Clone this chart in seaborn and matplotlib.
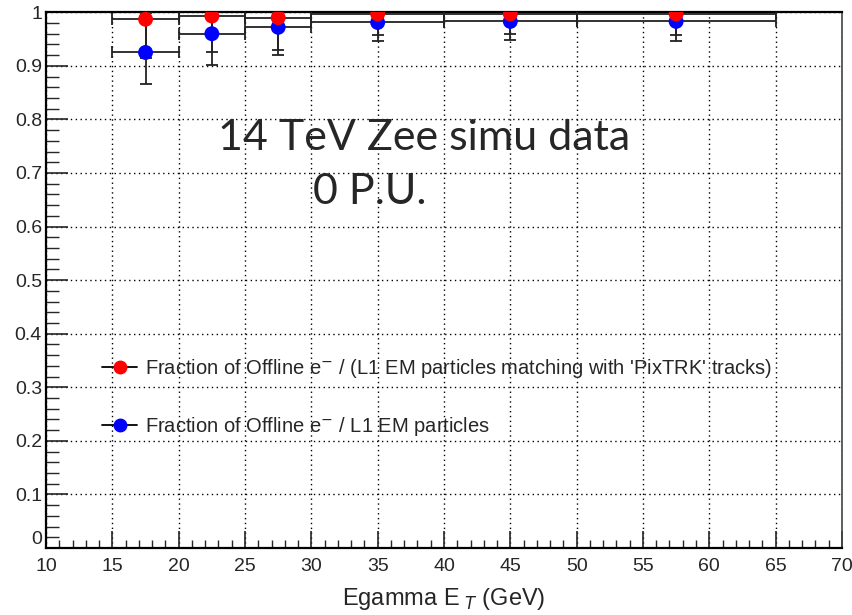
import matplotlib
matplotlib.use("Agg")
import matplotlib.pyplot as plt
import seaborn as sns
import pandas as pd
from matplotlib.lines import Line2D
from matplotlib.ticker import MultipleLocator

# bins of Egamma E_T (GeV)
bin_lo = [15, 20, 25, 30, 40, 50]
bin_hi = [20, 25, 30, 40, 50, 65]
bin_center = [17.5, 22.5, 27.5, 35, 45, 57.5]

# fraction matching PixTRK tracks (red)
frac_trk = [0.987, 0.993, 0.990, 0.997, 0.997, 0.997]
frac_trk_lo = [0.915, 0.925, 0.930, 0.957, 0.960, 0.957]
frac_trk_hi = [0.999, 0.999, 0.999, 0.999, 0.999, 0.999]

# fraction of offline e- / L1 EM particles (blue)
frac_em = [0.925, 0.960, 0.972, 0.981, 0.983, 0.983]
frac_em_lo = [0.866, 0.901, 0.921, 0.946, 0.949, 0.946]
frac_em_hi = [0.984, 0.992, 0.992, 0.995, 0.995, 0.995]

lab_trk = "Fraction of Offline e$^{-}$ / (L1 EM particles matching with 'PixTRK' tracks)"
lab_em = "Fraction of Offline e$^{-}$ / L1 EM particles"

df = pd.DataFrame({
    "et": bin_center * 2,
    "frac": frac_em + frac_trk,
    "series": [lab_em] * 6 + [lab_trk] * 6,
})

sns.set_style("ticks")
plt.rcParams["font.family"] = ["Liberation Sans", "DejaVu Sans"]

fig = plt.figure(figsize=(8.53, 6.15), dpi=100)
ax = fig.add_axes([0.054, 0.109, 0.933, 0.871])

xerr = [[c - lo for c, lo in zip(bin_center, bin_lo)],
        [hi - c for c, hi in zip(bin_center, bin_hi)]]
for vals, lo, hi in [(frac_em, frac_em_lo, frac_em_hi), (frac_trk, frac_trk_lo, frac_trk_hi)]:
    yerr = [[v - l for v, l in zip(vals, lo)], [h - v for v, h in zip(vals, hi)]]
    ax.errorbar(bin_center, vals, xerr=xerr, yerr=yerr, fmt="none", ecolor="#222222",
                elinewidth=1.3, capsize=4, capthick=1.3, zorder=3)

sns.scatterplot(data=df, x="et", y="frac", hue="series", palette={lab_em: "#0000ff", lab_trk: "#ff0000"},
                s=115, edgecolor="none", legend=False, ax=ax, zorder=4)

ax.set_xlim(10, 70)
ax.set_ylim(0, 1)
ax.xaxis.set_major_locator(MultipleLocator(5))
ax.xaxis.set_minor_locator(MultipleLocator(1))
ax.yaxis.set_major_locator(MultipleLocator(0.1))
ax.yaxis.set_minor_locator(MultipleLocator(0.02))
ax.set_yticks([0, 0.1, 0.2, 0.3, 0.4, 0.5, 0.6, 0.7, 0.8, 0.9, 1])
ax.set_yticklabels(["0", "0.1", "0.2", "0.3", "0.4", "0.5", "0.6", "0.7", "0.8", "0.9", "1"])
ax.get_yticklabels()[0].set_verticalalignment("bottom")
ax.tick_params(axis="x", which="major", direction="in", length=12, width=1.2, labelsize=14, pad=7)
ax.tick_params(axis="x", which="minor", direction="in", length=6, width=1.0)
ax.tick_params(axis="y", which="major", direction="in", length=16, width=1.2, labelsize=14, pad=3)
ax.tick_params(axis="y", which="minor", direction="in", length=9, width=1.0)
ax.grid(True, which="major", linestyle=(0, (1, 2.5)), color="black", linewidth=1.0)
for side in ["left", "bottom", "top"]:
    ax.spines[side].set_linewidth(1.6)
    ax.spines[side].set_color("black")
ax.spines["right"].set_linewidth(1.2)
ax.spines["right"].set_color("#444444")

ax.set_xlabel("Egamma E$_{\\ T}$ (GeV)", fontsize=17, labelpad=8)
ax.set_ylabel("")

ax.text(0.475, 0.765, "14 TeV Zee simu data", transform=ax.transAxes, ha="center", va="center",
        fontsize=31, family=["Lato", "DejaVu Sans"])
ax.text(0.407, 0.664, "0 P.U.", transform=ax.transAxes, ha="center", va="center",
        fontsize=31, family=["Lato", "DejaVu Sans"])

h_trk = (Line2D([], [], color="black", lw=1.3),
         Line2D([], [], marker="o", color="#ff0000", ls="none", ms=9))
h_em = (Line2D([], [], color="black", lw=1.3),
        Line2D([], [], marker="o", color="#0000ff", ls="none", ms=9))
leg = ax.legend([h_trk, h_em], [lab_trk, lab_em], loc="upper left",
                bbox_to_anchor=(0.048, 0.39), frameon=False, fontsize=14.5,
                labelspacing=1.75, handlelength=1.7, handletextpad=0.4)

fig.savefig("out.png", dpi=100)
